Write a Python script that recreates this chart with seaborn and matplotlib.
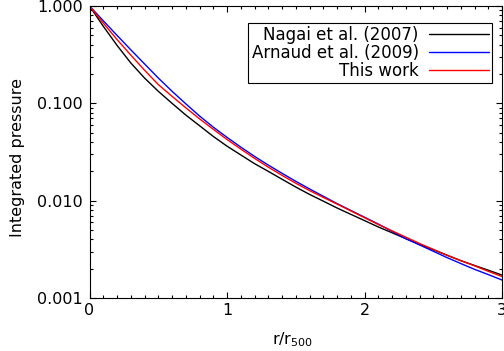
import matplotlib
matplotlib.use("Agg")
import matplotlib.pyplot as plt
import numpy as np
import pandas as pd
import seaborn as sns
from matplotlib.ticker import FixedLocator, FuncFormatter, MultipleLocator, LogLocator, NullFormatter

# Radius in units of r500
radius = [0.0, 0.1, 0.2, 0.3, 0.4, 0.5, 0.6, 0.7, 0.8, 0.9,
          1.0, 1.1, 1.2, 1.3, 1.4, 1.5, 1.6, 1.7, 1.8, 1.9,
          2.0, 2.1, 2.2, 2.3, 2.4, 2.5, 2.6, 2.7, 2.8, 2.9, 3.0]

# Normalised integrated pressure profiles
nagai_2007 = [1.0, 0.619, 0.394, 0.260, 0.182, 0.133, 0.100, 0.0758, 0.0589, 0.0457,
              0.0363, 0.0295, 0.0240, 0.0200, 0.0166, 0.0138, 0.0116, 0.00989, 0.00841, 0.00724,
              0.00624, 0.00537, 0.00468, 0.00407, 0.00355, 0.00313, 0.00275, 0.00242, 0.00216, 0.00193,
              0.00172]
arnaud_2009 = [1.0, 0.705, 0.499, 0.355, 0.254, 0.182, 0.133, 0.0989, 0.0741, 0.0569,
               0.0447, 0.0355, 0.0285, 0.0232, 0.0191, 0.0158, 0.0132, 0.0111, 0.00933, 0.00794,
               0.00676, 0.00575, 0.00484, 0.00407, 0.00351, 0.00302, 0.00260, 0.00226, 0.00197, 0.00174,
               0.00153]
this_work = [1.0, 0.668, 0.452, 0.313, 0.219, 0.156, 0.118, 0.0900, 0.0693, 0.0541,
             0.0425, 0.0339, 0.0272, 0.0221, 0.0182, 0.0151, 0.0127, 0.0108, 0.00923, 0.00785,
             0.00668, 0.00569, 0.00490, 0.00422, 0.00363, 0.00316, 0.00275, 0.00242, 0.00214, 0.00188,
             0.00166]

series_labels = ["Nagai et al. (2007)", "Arnaud et al. (2009)", "This work"]
series_colors = ["black", "blue", "red"]
x_ticks = [0, 1, 2, 3]
y_ticks = [0.001, 0.01, 0.1, 1.0]

frames = []
for lab, vals in zip(series_labels, [nagai_2007, arnaud_2009, this_work]):
    frames.append(pd.DataFrame({"radius": radius, "pressure": vals, "model": lab}))
df = pd.concat(frames, ignore_index=True)

sns.set_style("ticks")
plt.rcParams.update({
    "font.family": ["DejaVu Sans"],
    "font.size": 11,
    "text.color": "black",
    "axes.labelcolor": "black",
    "axes.linewidth": 0.8,
    "axes.edgecolor": "black",
    "xtick.direction": "in",
    "ytick.direction": "in",
    "xtick.top": True,
    "ytick.right": True,
    "xtick.major.size": 4.5,
    "ytick.major.size": 4.5,
    "xtick.minor.size": 2.5,
    "ytick.minor.size": 2.5,
    "xtick.major.width": 0.8,
    "ytick.major.width": 0.8,
    "xtick.minor.width": 0.8,
    "ytick.minor.width": 0.8,
    "xtick.major.pad": 3.5,
    "ytick.major.pad": 5.0,
    "xtick.labelsize": 11.5,
    "ytick.labelsize": 11.5,
    "xtick.color": "black",
    "ytick.color": "black",
    "xtick.labelcolor": "black",
    "ytick.labelcolor": "black",
})

fig = plt.figure(figsize=(5.04, 3.51), dpi=100)
ax = fig.add_axes([0.1776, 0.151, 0.8185, 0.832])

sns.lineplot(data=df, x="radius", y="pressure", hue="model",
             hue_order=series_labels,
             palette=dict(zip(series_labels, series_colors)),
             estimator=None, sort=False, linewidth=1.0, ax=ax)

ax.set_yscale("log")
ax.set_xlim(0, 3)
ax.set_ylim(0.001, 1.0)

ax.xaxis.set_major_locator(FixedLocator(x_ticks))
ax.xaxis.set_major_formatter(FuncFormatter(lambda v, p: f"{v:g}"))
ax.xaxis.set_minor_locator(MultipleLocator(0.1))
ax.yaxis.set_major_locator(FixedLocator(y_ticks))
ax.yaxis.set_major_formatter(FuncFormatter(lambda v, p: f"{v:.3f}"))
ax.yaxis.set_minor_locator(LogLocator(base=10, subs=np.arange(2, 10)))
ax.yaxis.set_minor_formatter(NullFormatter())
ax.tick_params(which="both", top=True, right=True)

ax.set_xlabel("r/r$_{500}$", fontsize=11.5, color="black")
ax.set_ylabel("Integrated pressure", fontsize=11.5, color="black")
ax.xaxis.set_label_coords(0.493, -0.11)
ax.yaxis.set_label_coords(-0.156, 0.48)

# Legend: line samples on the right, labels flush against them
handles, labels = ax.get_legend_handles_labels()
leg = ax.legend(handles, labels, loc="upper right", bbox_to_anchor=(0.976, 0.943),
                borderaxespad=0, markerfirst=False, frameon=True, fancybox=False,
                shadow=False, framealpha=1, edgecolor="black", fontsize=12,
                handlelength=3.6, handletextpad=0.6, labelspacing=0.0, borderpad=0.2)
leg.get_frame().set_linewidth(0.8)
for line in leg.get_lines():
    line.set_linewidth(1.0)
for t in leg.get_texts():
    t.set_color("black")

fig.savefig("out.png", dpi=100)
